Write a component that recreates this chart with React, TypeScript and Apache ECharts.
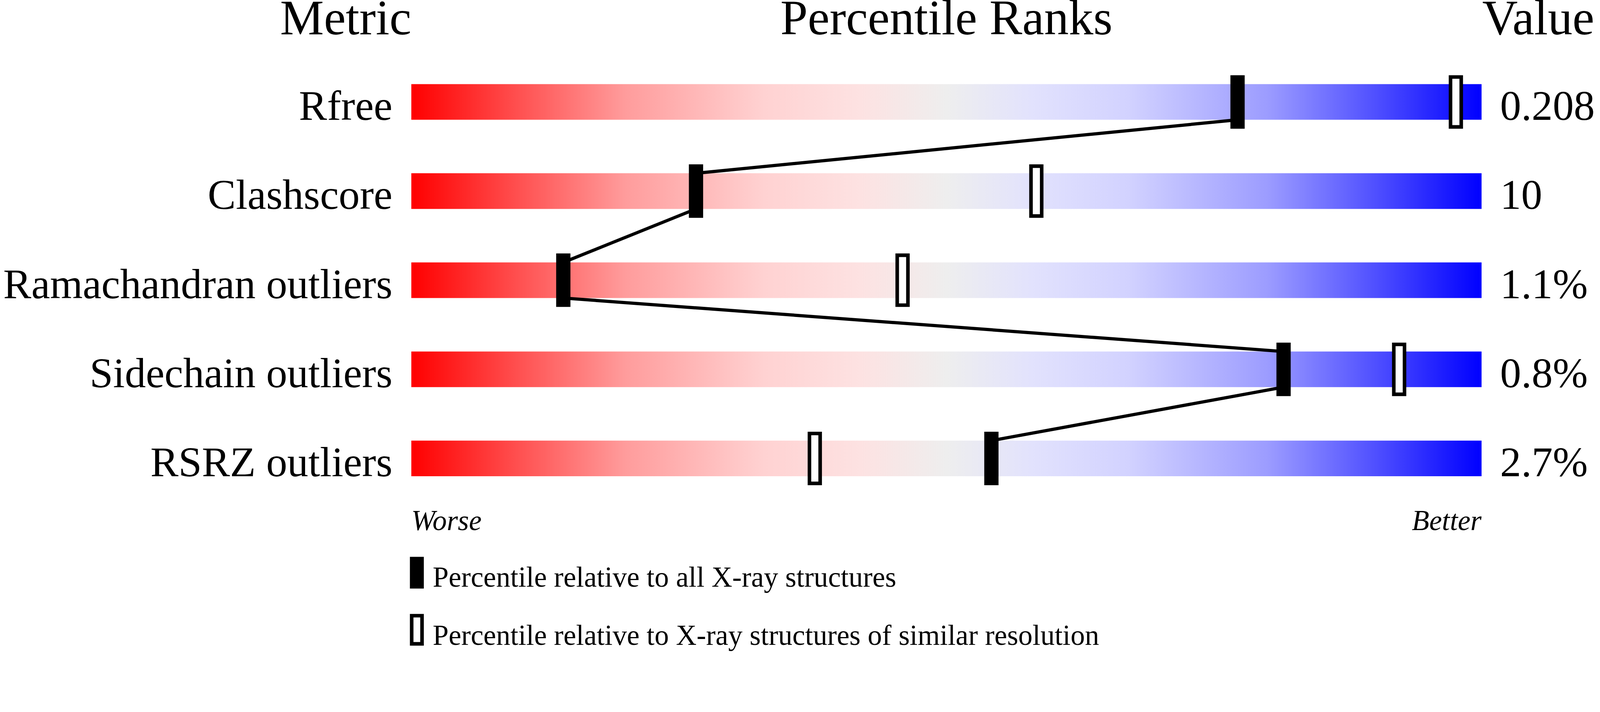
import React, { useEffect, useRef } from "react";
import * as echarts from "echarts";

const metrics = ["Rfree", "Clashscore", "Ramachandran outliers", "Sidechain outliers", "RSRZ outliers"];
const valueLabels = ["0.208", "10", "1.1%", "0.8%", "2.7%"];
const allPct = [77.2, 26.6, 14.2, 81.5, 54.2];
const simPct = [97.6, 58.4, 45.9, 92.3, 37.7];
const headers = ["Metric", "Percentile Ranks", "Value"];
const scaleEnds = ["Worse", "Better"];
const legendLabels = [
  "Percentile relative to all X-ray structures",
  "Percentile relative to X-ray structures of similar resolution",
];

const FONT = '"Liberation Serif", "Times New Roman", Times, serif';
const CENTRAL = 0.3375; // central baseline offset (em) above alphabetic
const REF_W = 4485;

export default function App() {
  const ref = useRef<HTMLDivElement>(null);
  useEffect(() => {
    if (!ref.current) return;
    const chart = echarts.init(ref.current, undefined, { renderer: "svg" });
    const s = chart.getWidth() / REF_W;
    const gridLeft = 1153 * s;
    const gridWidth = 3000 * s;
    const gridTop = 161 * s;
    const gridHeight = 1250 * s;
    const barHalf = 0.2;
    const markHalf = 0.3;
    const labelSize = 118 * s;
    const headSize = 138 * s;
    const smallSize = 80 * s;

    const makeGrad = () =>
      new echarts.graphic.LinearGradient(0, 0, 1, 0, [
        { offset: 0, color: "#ff0000" },
        { offset: 0.1, color: "#ff5050" },
        { offset: 0.2, color: "#ff9c9c" },
        { offset: 0.33, color: "#ffd2d2" },
        { offset: 0.42, color: "#fde2e2" },
        { offset: 0.5, color: "#eeeeee" },
        { offset: 0.58, color: "#e2e2fd" },
        { offset: 0.67, color: "#d2d2ff" },
        { offset: 0.8, color: "#9c9cff" },
        { offset: 0.9, color: "#5050ff" },
        { offset: 1, color: "#0000ff" },
      ]);

    const linePts: number[][] = [];
    allPct.forEach((p, i) => {
      if (i > 0) linePts.push([p, i - barHalf]);
      if (i < allPct.length - 1) linePts.push([p, i + barHalf]);
    });

    const textEl = (x: number, baseline: number, text: string, size: number, align: string, italic = false) => ({
      type: "text",
      x,
      y: baseline - CENTRAL * size,
      silent: true,
      style: {
        text,
        fill: "#000",
        fontSize: size,
        fontFamily: FONT,
        fontStyle: italic ? "italic" : "normal",
        align,
        textAlign: align,
        verticalAlign: "middle",
        textVerticalAlign: "middle",
      },
    });

    chart.setOption({
      animation: false,
      backgroundColor: "#ffffff",
      grid: { left: gridLeft, width: gridWidth, top: gridTop, height: gridHeight },
      xAxis: { type: "value", min: 0, max: 100, show: false },
      yAxis: { type: "value", min: -0.5, max: 4.5, inverse: true, show: false },
      graphic: [
        textEl(gridLeft, 96 * s, headers[0], headSize, "right"),
        textEl(gridLeft + gridWidth / 2, 96 * s, headers[1], headSize, "center"),
        textEl(gridLeft + gridWidth + 2 * s, 96 * s, headers[2], headSize, "left"),
        textEl(gridLeft, 1487 * s, scaleEnds[0], smallSize, "left", true),
        textEl(gridLeft + gridWidth, 1487 * s, scaleEnds[1], smallSize, "right", true),
        {
          type: "rect",
          shape: { x: 1149 * s, y: 1562 * s, width: 39 * s, height: 89 * s },
          style: { fill: "#000" },
        },
        {
          type: "rect",
          shape: { x: 1154 * s, y: 1727 * s, width: 29 * s, height: 79 * s },
          style: { fill: "#fff", stroke: "#000", lineWidth: 10 * s },
        },
        textEl(1213 * s, 1646 * s, legendLabels[0], smallSize, "left"),
        textEl(1213 * s, 1809 * s, legendLabels[1], smallSize, "left"),
      ],
      series: [
        {
          type: "custom",
          z: 1,
          silent: true,
          data: metrics.map((_, i) => [0, i]),
          renderItem: (_p: any, api: any) => {
            const i = api.value(1);
            const a = api.coord([0, i - barHalf]);
            const b = api.coord([100, i + barHalf]);
            return {
              type: "rect",
              shape: { x: a[0], y: a[1], width: b[0] - a[0], height: b[1] - a[1] },
              style: { fill: makeGrad() },
            };
          },
        },
        {
          type: "line",
          z: 2,
          silent: true,
          symbol: "none",
          data: linePts,
          lineStyle: { color: "#000", width: 9 * s },
        },
        {
          type: "custom",
          z: 3,
          silent: true,
          data: simPct.map((p, i) => [p, i]),
          renderItem: (_p: any, api: any) => {
            const x = api.coord([api.value(0), api.value(1)])[0];
            const t = api.coord([api.value(0), api.value(1) - markHalf])[1];
            const b = api.coord([api.value(0), api.value(1) + markHalf])[1];
            return {
              type: "rect",
              shape: { x: x - 15 * s, y: t + 5 * s, width: 30 * s, height: b - t - 10 * s },
              style: { fill: "#fff", stroke: "#000", lineWidth: 10 * s },
            };
          },
        },
        {
          type: "custom",
          z: 4,
          silent: true,
          data: allPct.map((p, i) => [p, i]),
          renderItem: (_p: any, api: any) => {
            const x = api.coord([api.value(0), api.value(1)])[0];
            const t = api.coord([api.value(0), api.value(1) - markHalf])[1];
            const b = api.coord([api.value(0), api.value(1) + markHalf])[1];
            return {
              type: "rect",
              shape: { x: x - 20 * s, y: t, width: 40 * s, height: b - t },
              style: { fill: "#000" },
            };
          },
        },
        {
          type: "custom",
          z: 5,
          silent: true,
          data: metrics.map((_, i) => [0, i]),
          renderItem: (_p: any, api: any) => {
            const idx = api.value(1);
            const left = api.coord([0, idx + barHalf]);
            const right = api.coord([100, idx + barHalf]);
            return {
              type: "group",
              children: [
                {
                  type: "text",
                  x: left[0] - 53 * s,
                  y: left[1] - CENTRAL * labelSize,
                  style: {
                    text: metrics[idx],
                    fill: "#000",
                    fontSize: labelSize,
                    fontFamily: FONT,
                    align: "right",
                    verticalAlign: "middle",
                  },
                },
                {
                  type: "text",
                  x: right[0] + 52 * s,
                  y: right[1] - CENTRAL * labelSize,
                  style: {
                    text: valueLabels[idx],
                    fill: "#000",
                    fontSize: labelSize,
                    fontFamily: FONT,
                    align: "left",
                    verticalAlign: "middle",
                  },
                },
              ],
            };
          },
        },
      ],
    });
    return () => chart.dispose();
  }, []);
  return (
    <div
      ref={ref}
      style={{ position: "fixed", left: 0, top: 0, width: "100vw", height: "100vh", background: "#fff" }}
    />
  );
}
